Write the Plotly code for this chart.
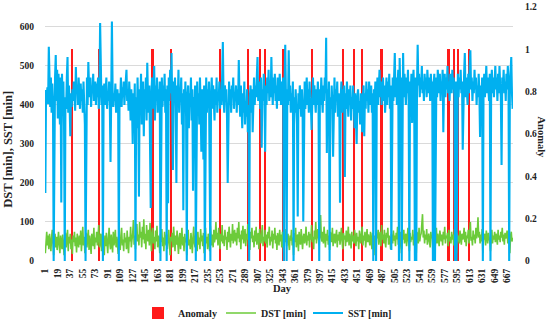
import plotly.graph_objects as go

sst = [
174,438,420,445,402,549,430,395,470,380,455,410,0,440,470,528,410,490,365,480,420,350,470,150,480,
395,460,340,0,420,390,470,523,380,450,400,320,430,395,440,410,460,420,385,497,430,450,400,470,425,
390,455,410,440,380,460,420,350,0,430,470,400,510,445,420,470,395,450,430,480,410,440,460,400,455,
420,470,390,430,610,440,400,450,0,420,455,400,440,470,390,430,410,460,400,254,420,614,440,395,430,
410,455,380,420,440,400,0,430,410,470,395,445,420,460,400,435,470,490,410,440,385,460,420,360,440,
400,300,430,380,455,0,420,340,470,380,165,440,400,480,350,430,460,320,440,390,470,360,508,420,380,
450,340,136,430,470,390,440,500,360,450,410,470,380,440,400,460,0,430,470,395,450,410,480,380,440,
0,450,148,470,410,490,430,533,400,233,460,420,470,390,200,450,410,490,380,440,420,470,350,430,130,
440,390,460,370,0,420,450,340,430,400,470,360,440,180,420,390,450,0,410,460,380,430,350,470,400,
280,440,390,260,450,0,420,470,380,440,400,460,225,0,430,470,390,450,410,360,440,400,470,380,430,
410,460,390,440,400,470,561,420,380,450,410,440,370,200,430,460,400,440,380,450,420,470,390,430,410,
450,380,440,400,515,420,370,450,400,340,430,380,460,350,410,370,440,330,400,0,420,450,380,440,330,
430,470,400,450,420,480,523,410,460,430,390,470,290,440,410,480,430,280,450,400,470,430,490,410,450,
420,523,440,400,470,430,480,410,450,390,470,430,410,480,440,400,460,420,470,0,450,554,420,0,440,
400,540,410,450,380,430,400,460,0,420,380,440,400,350,114,430,390,450,410,370,440,400,101,420,460,
390,430,470,400,440,380,460,420,400,336,430,470,400,450,410,380,440,400,460,420,0,440,400,470,420,
380,450,410,470,430,572,277,440,400,460,0,420,390,450,400,267,430,470,380,440,410,460,370,430,400,
149,420,460,380,440,400,450,215,430,390,460,410,370,440,400,450,360,420,390,450,400,340,430,380,300,
420,440,380,410,350,430,400,330,420,450,320,430,390,460,410,440,380,460,420,400,450,380,430,0,440,
410,460,0,430,470,400,450,490,420,460,400,440,470,410,450,380,440,470,400,460,420,480,390,450,28,
430,470,410,460,533,420,470,400,450,490,0,520,430,470,0,450,533,420,480,440,400,470,430,490,410,
0,460,430,480,354,450,490,420,0,470,0,440,554,450,480,420,470,440,500,430,460,410,480,440,470,
420,490,450,430,470,410,480,440,460,0,450,480,0,440,470,420,490,450,430,480,410,460,440,490,330,
450,480,420,470,440,500,430,460,410,480,450,430,490,440,470,420,0,460,0,450,480,420,470,440,490,
430,460,285,450,480,533,420,470,440,400,480,430,500,540,440,470,410,460,430,490,440,470,400,450,420,
480,430,318,450,410,470,0,440,480,420,460,500,430,470,440,410,480,0,450,490,430,470,420,460,500,
440,470,410,480,430,500,450,420,246,470,440,490,430,460,410,480,440,500,460,0,450,490,523,430,390,
]

dst = [
20,55,75,40,65,30,70,48,25,60,80,45,15,55,70,35,62,28,50,75,40,20,65,52,30,
68,45,15,58,72,35,50,80,25,62,45,70,30,55,18,65,48,75,38,60,22,70,50,35,65,
42,78,25,55,88,40,62,20,50,72,35,58,80,28,65,45,18,70,52,38,85,30,60,48,75,
40,62,92,35,55,70,25,50,80,42,15,65,38,72,55,20,60,85,45,30,68,50,22,75,40,
58,80,35,62,45,18,70,52,28,65,85,40,55,25,72,48,60,30,78,45,20,62,50,88,35,
55,70,105,42,65,30,80,95,50,68,40,100,60,75,35,88,55,107,45,70,30,92,62,50,80,
40,98,58,25,72,85,45,62,30,78,50,90,35,65,55,20,70,48,82,38,60,25,75,52,40,
68,30,58,80,45,15,62,50,72,35,88,55,25,65,42,78,50,18,60,72,30,55,85,40,62,
25,70,48,58,15,65,80,40,55,30,72,50,20,62,88,45,35,68,55,25,75,42,60,30,82,
50,65,38,72,20,58,85,45,62,30,70,52,25,90,55,40,68,35,80,48,60,100,55,72,40,
85,58,30,70,50,92,45,65,38,80,55,62,28,75,48,88,60,35,70,52,95,45,65,80,50,
72,40,85,58,100,48,68,30,78,55,90,45,62,82,38,70,55,95,42,65,28,75,58,85,48,
65,35,78,50,88,42,60,72,30,82,55,45,70,92,38,62,50,80,45,68,35,75,58,88,40,
62,50,78,32,70,55,85,45,65,28,72,58,40,80,50,68,35,75,55,20,62,48,82,38,58,
70,45,28,65,52,80,40,60,15,72,48,85,35,58,68,25,75,50,42,82,55,30,62,70,45,
58,88,40,65,52,75,35,70,55,92,48,62,30,78,55,100,45,68,82,58,40,72,118,60,50,
75,45,88,60,35,70,52,80,42,65,28,75,55,48,85,38,62,70,45,58,80,35,68,52,75,
42,60,85,50,30,72,55,65,38,78,48,62,88,40,70,55,32,75,50,65,45,80,58,38,72,
50,62,30,78,55,45,70,88,40,65,52,75,35,60,82,48,68,55,40,75,60,30,72,50,15,
65,45,25,70,58,80,42,62,75,38,92,55,68,45,80,50,35,72,60,85,42,65,55,30,70,
58,45,78,52,65,38,72,55,88,42,60,20,75,50,30,68,55,80,45,62,70,38,58,85,50,
25,72,48,62,55,80,40,68,30,52,20,75,58,45,85,50,65,70,95,120,60,78,45,68,55,
82,42,62,70,50,35,75,58,65,20,72,48,25,60,85,45,70,55,38,78,62,50,68,40,75,
55,88,45,65,58,72,38,80,50,62,45,75,55,68,40,82,15,60,20,72,50,65,45,78,58,
42,70,55,62,85,48,75,38,65,58,80,45,70,100,52,62,40,78,55,68,45,85,58,72,112,
60,75,45,68,50,82,20,62,55,70,40,78,58,45,72,62,50,25,68,80,45,65,55,75,48,
70,58,42,80,55,65,48,75,60,85,50,68,42,72,58,62,78,45,70,55,20,65,75,50,60,
]

anomaly_days = [40, 79, 156, 183, 253, 294, 311, 318, 345, 386, 431, 447, 458, 486, 583, 591, 597, 612]
anomaly_values = [1] * len(anomaly_days)

days = list(range(1, len(sst) + 1))
tick_days = list(range(1, 668, 18))
left_ticks = [0, 100, 200, 300, 400, 500, 600]
right_ticks = [0, 0.2, 0.4, 0.6, 0.8, 1, 1.2]
right_labels = ["0", "0.2", "0.4", "0.6", "0.8", "1", "1.2"]

FONT = "Liberation Serif"
TXT = "#222222"
TICK = dict(family=FONT, size=9.5, color=TXT, weight="bold")
TITLE = dict(family=FONT, size=10.5, color=TXT, weight="bold")
LEGF = dict(family=FONT, size=10, color=TXT, weight="bold")
LTITLE = dict(family=FONT, size=12.5, color=TXT, weight="bold")

fig = go.Figure()
fig.add_trace(go.Bar(x=anomaly_days, y=anomaly_values, width=2.6, name="Anomaly",
                     marker=dict(color="#FF1A1A", line=dict(width=0)), yaxis="y",
                     legend="legend"))
fig.add_trace(go.Scatter(x=days, y=dst, mode="lines", name="DST [min]",
                         line=dict(color="#6CCB3A", width=1.6), yaxis="y2",
                         legend="legend2"))
fig.add_trace(go.Scatter(x=days, y=sst, mode="lines", name="SST [min]",
                         line=dict(color="#00B0F0", width=2.1), yaxis="y2",
                         legend="legend3"))

def leg(px):
    return dict(orientation="h", x=px / 550, xanchor="left", xref="container",
                y=0.028, yanchor="middle", yref="container",
                font=LEGF, itemwidth=30, bgcolor="rgba(0,0,0,0)", borderwidth=0)

fig.update_layout(
    width=550, height=322,
    margin=dict(l=45, r=37, t=7, b=61, autoexpand=False),
    paper_bgcolor="white", plot_bgcolor="white",
    font=TICK,
    showlegend=True,
    legend=leg(138), legend2=leg(221), legend3=leg(308),
    bargap=0,
    xaxis=dict(range=[0.5, len(sst) + 0.5], tickmode="array", tickvals=tick_days,
               ticktext=[str(d) for d in tick_days], tickangle=-90, showgrid=False,
               zeroline=False, showline=False, ticks="outside", ticklen=3,
               tickcolor="rgba(0,0,0,0)", tickfont=TICK, automargin=False),
    yaxis=dict(range=[0, 1.2], side="right", tickmode="array", tickvals=right_ticks,
               ticktext=right_labels, showgrid=False, zeroline=False, showline=False,
               ticks="outside", ticklen=9, tickcolor="rgba(0,0,0,0)", tickfont=TICK,
               automargin=False),
    yaxis2=dict(range=[0, 651], side="left", overlaying="y", tickmode="array",
                tickvals=left_ticks, showgrid=True, gridcolor="#DADADA", gridwidth=1,
                zeroline=False, showline=False, ticks="outside", ticklen=8,
                tickcolor="rgba(0,0,0,0)", tickfont=TICK, automargin=False),
    annotations=[
        dict(text="Day", xref="paper", yref="paper", x=0.508, y=-0.11,
             xanchor="center", yanchor="middle", showarrow=False, font=TITLE),
        dict(text="DST [min], SST [min]", xref="paper", yref="paper",
             x=-0.078, y=0.44, xanchor="center", yanchor="middle",
             textangle=-90, showarrow=False, font=LTITLE),
        dict(text="Anomaly", xref="paper", yref="paper",
             x=1.061, y=0.488, xanchor="center", yanchor="middle",
             textangle=90, showarrow=False, font=TITLE),
    ],
)
fig.write_html("out.html", config={"displayModeBar": False},
               post_script="document.body.style.margin='0';document.body.style.overflow='hidden';")
